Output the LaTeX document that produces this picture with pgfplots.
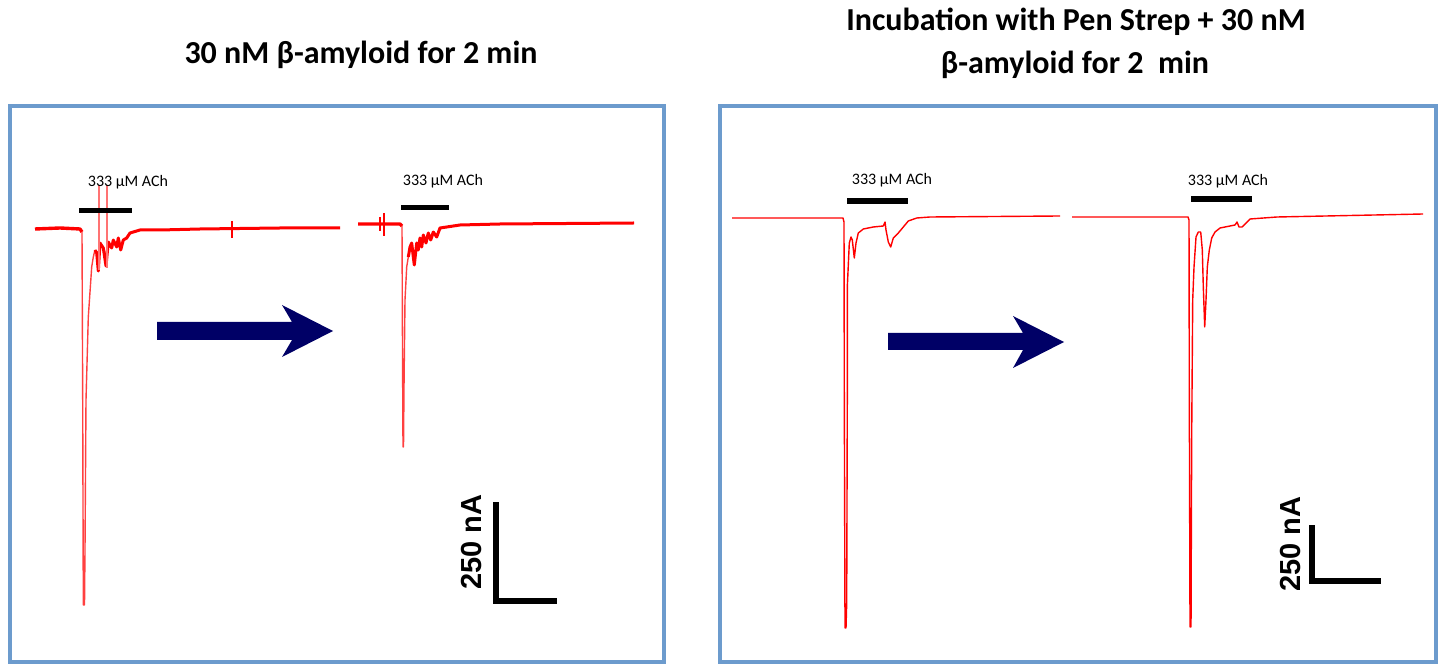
\documentclass[border=0pt]{standalone}
\usepackage{pgfplots}
\pgfplotsset{compat=1.18}
\usepackage{fontspec}
\setmainfont{Carlito}
\newfontfamily\arialfont{Liberation Sans}
\definecolor{framebl}{RGB}{108,155,205}
\definecolor{navyarr}{RGB}{0,0,102}
\definecolor{trace}{RGB}{255,0,0}
\begin{document}
\begin{tikzpicture}
\begin{axis}[at={(0,0)}, anchor=south west, scale only axis,
  width=722pt, height=333.5pt,
  xmin=0, xmax=1444, ymin=0, ymax=667, y dir=reverse,
  axis lines=none, clip=false]
% frames
\addplot[framebl, line width=2pt, mark=none] coordinates {(10,106) (664,106) (664,662) (10,662)} -- cycle;
\addplot[framebl, line width=2pt, mark=none] coordinates {(720,106) (1436,106) (1436,662) (720,662)} -- cycle;
% left trace 1
\addplot[trace, line width=1.7pt, line join=round, mark=none] coordinates {(35,229) (60,228) (80,229) (82,232)};
\addplot[trace!75, line width=0.7pt, line join=round, mark=none] coordinates {(82,232) (82.7,400) (83.3,605) (84.5,605) (85,550) (86,400) (88.3,317) (91.7,267) (93.3,257) (95,250)};
\addplot[trace, line width=1.5pt, line join=round, mark=none] coordinates {(95,250) (96.7,253) (98.3,271) (100,243) (103.3,248) (106,266) (108.3,242) (111.7,248) (113.3,240) (116.7,247) (118.3,238) (120.7,250) (123.3,240) (126.7,238) (130,233) (133.3,232) (140,230) (160,230) (200,229) (280,228) (340,228)};
\addplot[trace!55, line width=0.8pt, mark=none] coordinates {(99,270) (99,185)};
\addplot[trace!55, line width=0.8pt, mark=none] coordinates {(107,268) (107,185)};
\addplot[trace, line width=0.6pt, mark=none] coordinates {(232,221) (232,238)};
% left trace 2
\addplot[trace, line width=1.7pt, line join=round, mark=none] coordinates {(358,224) (378,224) (400,224) (402,226)};
\addplot[trace, line width=0.6pt, mark=none] coordinates {(380,217) (380,231)};
\addplot[trace, line width=0.6pt, mark=none] coordinates {(384,213) (384,236)};
\addplot[trace!75, line width=0.7pt, line join=round, mark=none] coordinates {(402,226) (402.5,350) (403,447) (403.5,447) (404,387) (405,300) (406.7,267) (408.3,257)};
\addplot[trace, line width=1.5pt, line join=round, mark=none] coordinates {(408.3,257) (410,247) (411.7,243) (413.3,257) (414.3,265) (416.7,243) (418.3,250) (420,238) (421.7,247) (423.3,235) (426,243) (428.3,233) (430.7,240) (433.3,232) (436.7,237) (440,228) (446.7,227) (460,225) (500,224) (634,223)};
% right trace 3
\addplot[trace, line width=0.7pt, line join=round, mark=none] coordinates {(732,218) (760,218) (790,218) (843,218) (844,222) (844.3,400) (845,628) (846,628) (846.7,603) (847.3,400) (847.3,287) (849.3,243) (851,237) (852.3,240) (854.3,258) (856,243) (858.3,233) (863.3,229) (873.3,227) (883.3,226) (885,222) (886,230) (888.3,242) (890.7,247) (893.3,238) (898.3,233) (903.3,227) (908.3,221) (916.7,218) (930,217) (1060,216)};
% right trace 4
\addplot[trace, line width=0.7pt, line join=round, mark=none] coordinates {(1072,217) (1100,217) (1188,217) (1189,220) (1189.3,400) (1190,627) (1191,627) (1191.7,433) (1192.7,300) (1194,267) (1196,237) (1198.3,232) (1200.7,232) (1202.3,250) (1203.3,287) (1204.7,327) (1206,300) (1207.3,267) (1209.3,250) (1211.7,238) (1215,232) (1220,228) (1230,226) (1235,225) (1237,222) (1239,227) (1242,227) (1250,219) (1277,217) (1423,214)};
% ACh bars
\addplot[black, line width=2.5pt, mark=none] coordinates {(79,211) (132,211)};
\addplot[black, line width=2.5pt, mark=none] coordinates {(401,208) (449,208)};
\addplot[black, line width=3pt, mark=none] coordinates {(847,201) (908,201)};
\addplot[black, line width=3pt, mark=none] coordinates {(1191,199) (1252,199)};
% arrows
\addplot[fill=navyarr, draw=none, mark=none] coordinates {(157,322) (292,322) (282,305) (333,331) (282,357) (292,340) (157,340)} -- cycle;
\addplot[fill=navyarr, draw=none, mark=none] coordinates {(888,333) (1023,333) (1013,316) (1064,342) (1013,368) (1023,350) (888,350)} -- cycle;
% scale bars
\addplot[black, line width=3pt, mark=none, line join=miter] coordinates {(496,502) (496,601) (557,601)};
\addplot[black, line width=3pt, mark=none, line join=miter] coordinates {(1312,525) (1312,581) (1381,581)};
% texts
\node[font=\fontsize{8}{9.6}\selectfont] at (axis cs:128,182) {333 µM ACh};
\node[font=\fontsize{8}{9.6}\selectfont] at (axis cs:443,181) {333 µM ACh};
\node[font=\fontsize{8}{9.6}\selectfont] at (axis cs:892,180) {333 µM ACh};
\node[font=\fontsize{8}{9.6}\selectfont] at (axis cs:1228,181) {333 µM ACh};
\node[font=\fontsize{16}{19}\selectfont\bfseries] at (axis cs:361,55) {30 nM β-amyloid for 2 min};
\node[font=\fontsize{16}{19}\selectfont\bfseries] at (axis cs:1076,22) {Incubation with Pen Strep + 30 nM};
\node[font=\fontsize{16}{19}\selectfont\bfseries] at (axis cs:1075,65) {β-amyloid for 2 \ min};
\node[font=\arialfont\fontsize{14.5}{17}\selectfont\bfseries, rotate=90] at (axis cs:472,542) {250 nA};
\node[font=\arialfont\fontsize{14.5}{17}\selectfont\bfseries, rotate=90] at (axis cs:1290,544) {250 nA};
\end{axis}
\pgfresetboundingbox
\useasboundingbox (0,0) rectangle (722pt,333.5pt);
\end{tikzpicture}
\end{document}
